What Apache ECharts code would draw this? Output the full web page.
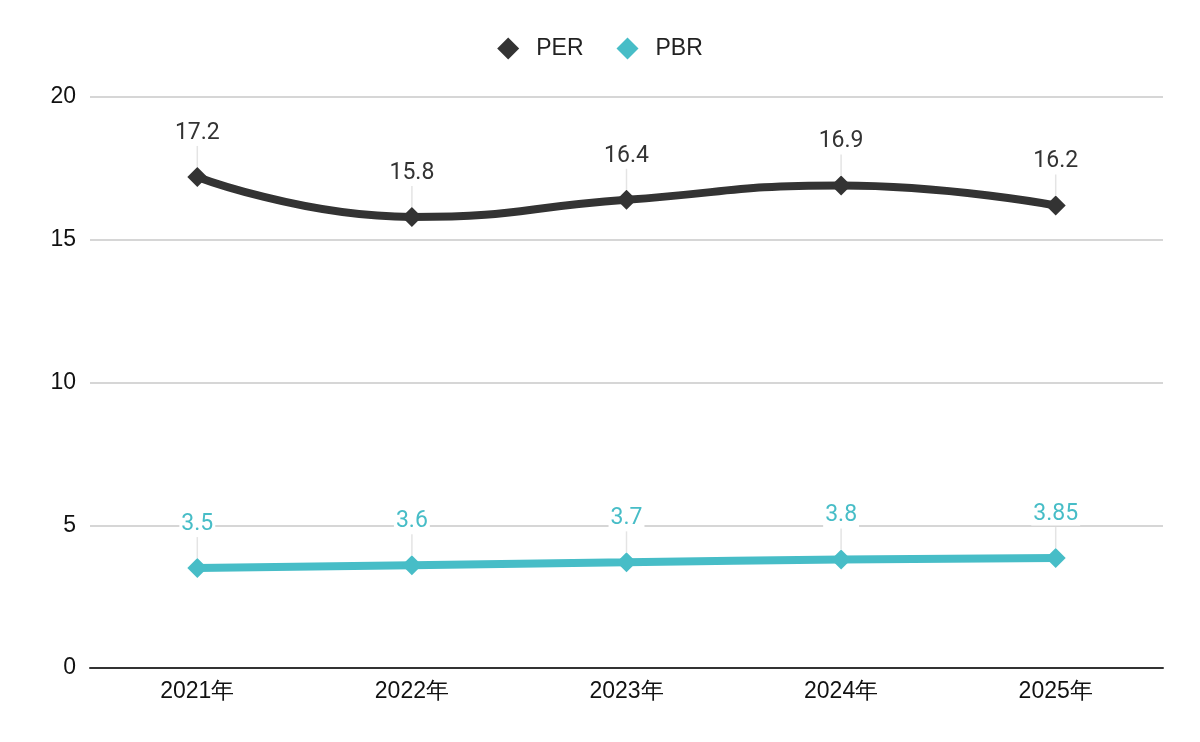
<!DOCTYPE html>
<html><head><meta charset="utf-8">
<script src="https://cdn.jsdelivr.net/npm/echarts@6/dist/echarts.min.js"></script>
<style>html,body{margin:0;padding:0;background:#fff}#c{width:1200px;height:742px}</style>
</head><body><div id="c"></div>
<script>
const categories = ['2021年','2022年','2023年','2024年','2025年'];
const perValues = [17.2, 15.8, 16.4, 16.9, 16.2];
const pbrValues = [3.5, 3.6, 3.7, 3.8, 3.85];
const yTicks = [0, 5, 10, 15, 20];

const chart = echarts.init(document.getElementById('c'));
const sans = "'Liberation Sans', Arial, sans-serif";
function mkLabel(color){
  return {show:true, position:'top', distance:0,
    formatter: p => '{v|' + p.value + '}\n{l| }',
    rich:{
      v:{fontSize:23, color:color, fontFamily:'Roboto', backgroundColor:'#fff', padding:[0,2], lineHeight:26, align:'center'},
      l:{width:1.5, height:21, lineHeight:21, fontSize:1, backgroundColor:'#e4e4e4', align:'center'}
    }};
}
chart.setOption({
  animation:false,
  textStyle:{fontFamily:'Roboto'},
  legend:{top:32, left:'center', itemWidth:22, itemHeight:22, itemGap:33,
    textStyle:{fontSize:23, color:'#222', fontFamily:sans, padding:[0,0,0,12]},
    data:[{name:'PER', icon:'diamond'},{name:'PBR', icon:'diamond'}]},
  grid:{left:90, right:37, top:97, bottom:74},
  xAxis:{type:'category', data:categories, boundaryGap:true,
    axisLine:{lineStyle:{color:'#333', width:2}}, axisTick:{show:false},
    axisLabel:{fontSize:23, color:'#111', margin:12, fontFamily:sans}},
  yAxis:{type:'value', min:yTicks[0], max:yTicks[yTicks.length-1], interval:5,
    axisLine:{show:false}, axisTick:{show:false},
    axisLabel:{fontSize:23, color:'#111', margin:14, fontFamily:sans},
    splitLine:{lineStyle:{color:'#c8c8c8', width:1.5}}},
  series:[
    {name:'PER', type:'line', data:perValues, smooth:true, symbol:'diamond', symbolSize:20,
      itemStyle:{color:'#333333'}, lineStyle:{width:8, color:'#333333'},
      label:mkLabel('#333')},
    {name:'PBR', type:'line', data:pbrValues, smooth:true, symbol:'diamond', symbolSize:20,
      itemStyle:{color:'#47bdc7'}, lineStyle:{width:8, color:'#47bdc7'},
      label:mkLabel('#47bdc7')}
  ]
});
</script></body></html>
